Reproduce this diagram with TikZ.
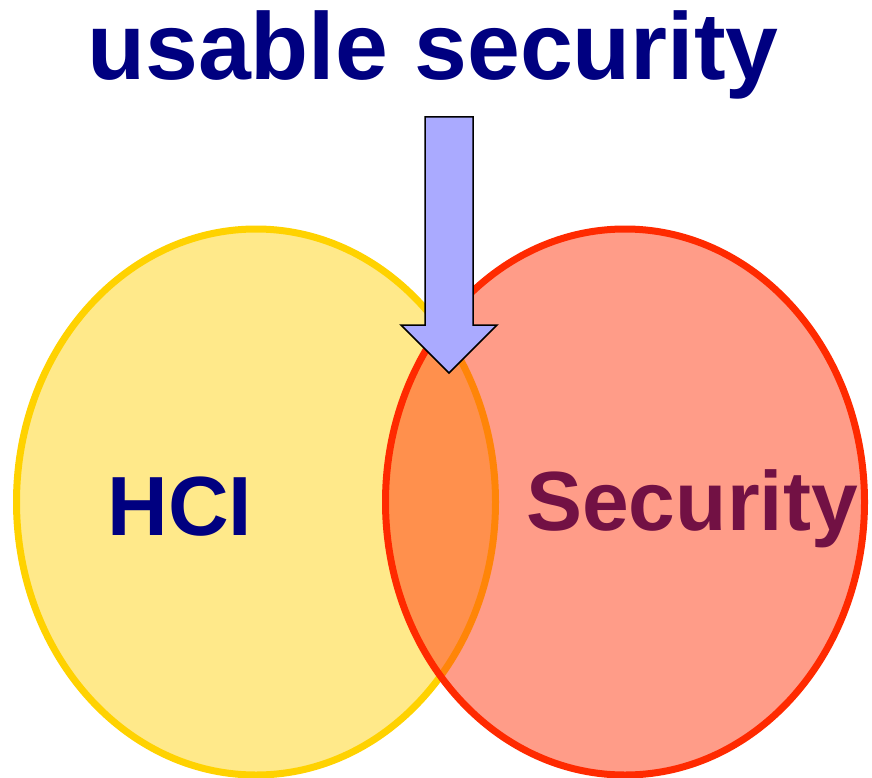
\documentclass[tikz,border=0pt]{standalone}
\usepackage{fontspec}
\setmainfont{Liberation Sans}
\usepackage{tikz}
\usetikzlibrary{shapes.geometric}

\definecolor{navytext}{HTML}{000080}
\definecolor{plumtext}{HTML}{721144}
\definecolor{goldline}{HTML}{FFD200}
\definecolor{goldfill}{HTML}{FFE98A}
\definecolor{redline}{HTML}{FF2A00}
\definecolor{redfill}{HTML}{FF3911}
\definecolor{arrowfill}{HTML}{AAAAFF}

\begin{document}
\begin{tikzpicture}[x=1pt, y=-1pt]
    % Styles
    \tikzstyle{field} = [ellipse, line width=7pt, minimum width=479pt, minimum height=546pt, inner sep=0pt]
    \tikzstyle{bigword} = [font=\bfseries\fontsize{84}{90}\selectfont, anchor=base, inner sep=0pt]

    \useasboundingbox (0,0) rectangle (872,778);

    % Circles
    \node[field, draw=goldline, fill=goldfill] (hci) at (256, 502) {};
    \node[field, draw=redline, fill=redfill, fill opacity=0.5] (sec) at (625, 502) {};

    % Labels
    \node[bigword, text=navytext] (hcilabel) at (180, 535) {HCI};
    \node[bigword, text=plumtext] (seclabel) at (692, 530) {Security};
    \node[bigword, text=navytext, font=\bfseries\fontsize{95}{100}\selectfont] (title) at (433, 80) {usable security};

    % Down arrow into the overlap
    \coordinate (tip) at (449, 373);
    \draw[line width=1.5pt, fill=arrowfill, line join=miter]
        (tip) -- ++(-48,-48) -- ++(24,0) -- ++(0,-208) -- ++(48,0)
        -- ++(0,208) -- ++(24,0) -- cycle;
\end{tikzpicture}
\end{document}
